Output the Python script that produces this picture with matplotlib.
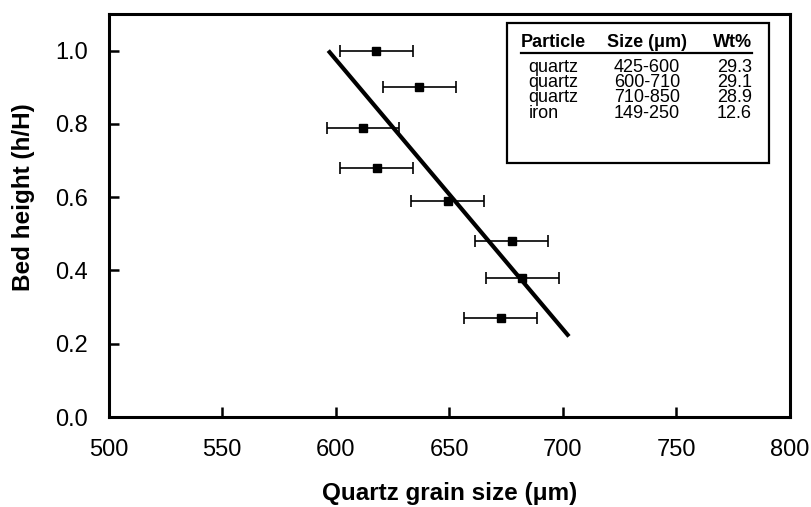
import matplotlib
matplotlib.use("Agg")
import matplotlib.pyplot as plt
from matplotlib.patches import Rectangle

plt.rcParams['font.family'] = ['Liberation Sans', 'DejaVu Sans']

# measured points
grain_size = [617.9, 636.8, 612.0, 618.0, 649.3, 677.5, 682.2, 672.6]
bed_height = [1.00, 0.90, 0.79, 0.68, 0.59, 0.48, 0.38, 0.27]
size_err = [16, 16, 16, 16, 16, 16, 16, 16]

# fitted trend line end points
fit_x = [596.7, 702.7]
fit_y = [1.00, 0.22]

# inset table
particles = ['quartz', 'quartz', 'quartz', 'iron']
size_ranges = ['425-600', '600-710', '710-850', '149-250']
wt_pct = ['29.3', '29.1', '28.9', '12.6']

fig = plt.figure(figsize=(8.11, 5.07), dpi=100)
ax = fig.add_axes([0.134, 0.1775, 0.840, 0.795])

ax.plot(fit_x, fit_y, color='black', lw=3.0, solid_capstyle='butt', zorder=3)
ax.errorbar(grain_size, bed_height, xerr=size_err, fmt='s', color='black',
            ms=5.5, elinewidth=1.2, capsize=4, capthick=1.2, zorder=4)

ax.set_xlim(500, 800)
ax.set_ylim(0, 1.1)
ax.set_xticks([500, 550, 600, 650, 700, 750, 800])
ax.set_yticks([0.0, 0.2, 0.4, 0.6, 0.8, 1.0])
ax.set_yticklabels(['%.1f' % v for v in [0.0, 0.2, 0.4, 0.6, 0.8, 1.0]])
ax.tick_params(direction='in', length=7, width=1.8, labelsize=17)
ax.tick_params(axis='x', pad=16)
ax.tick_params(axis='y', pad=15)
for s in ax.spines.values():
    s.set_linewidth(2.2)

ax.set_xlabel('Quartz grain size (μm)', fontsize=17.5, fontweight='bold')
ax.set_ylabel('Bed height (h/H)', fontsize=17.5, fontweight='bold')
ax.xaxis.set_label_coords(0.5, -0.162)
ax.yaxis.set_label_coords(-0.108, 0.545)

# table box
ax.add_patch(Rectangle((0.585, 0.630), 0.384, 0.348, transform=ax.transAxes,
                       fill=False, lw=1.6, color='black', zorder=5))
hy = 0.928
ax.text(0.605, hy, 'Particle', transform=ax.transAxes, fontsize=13,
        fontweight='bold', ha='left', va='center')
ax.text(0.790, hy, 'Size (μm)', transform=ax.transAxes, fontsize=13,
        fontweight='bold', ha='center', va='center')
ax.text(0.944, hy, 'Wt%', transform=ax.transAxes, fontsize=13,
        fontweight='bold', ha='right', va='center')
ax.plot([0.605, 0.944], [0.903, 0.903], transform=ax.transAxes,
        color='black', lw=1.6, zorder=5)

row_y = [0.868, 0.830, 0.792, 0.754]
for y, p, s, w in zip(row_y, particles, size_ranges, wt_pct):
    ax.text(0.616, y, p, transform=ax.transAxes, fontsize=13, ha='left', va='center')
    ax.text(0.790, y, s, transform=ax.transAxes, fontsize=13, ha='center', va='center')
    ax.text(0.944, y, w, transform=ax.transAxes, fontsize=13, ha='right', va='center')

fig.savefig('out.png', dpi=100)
